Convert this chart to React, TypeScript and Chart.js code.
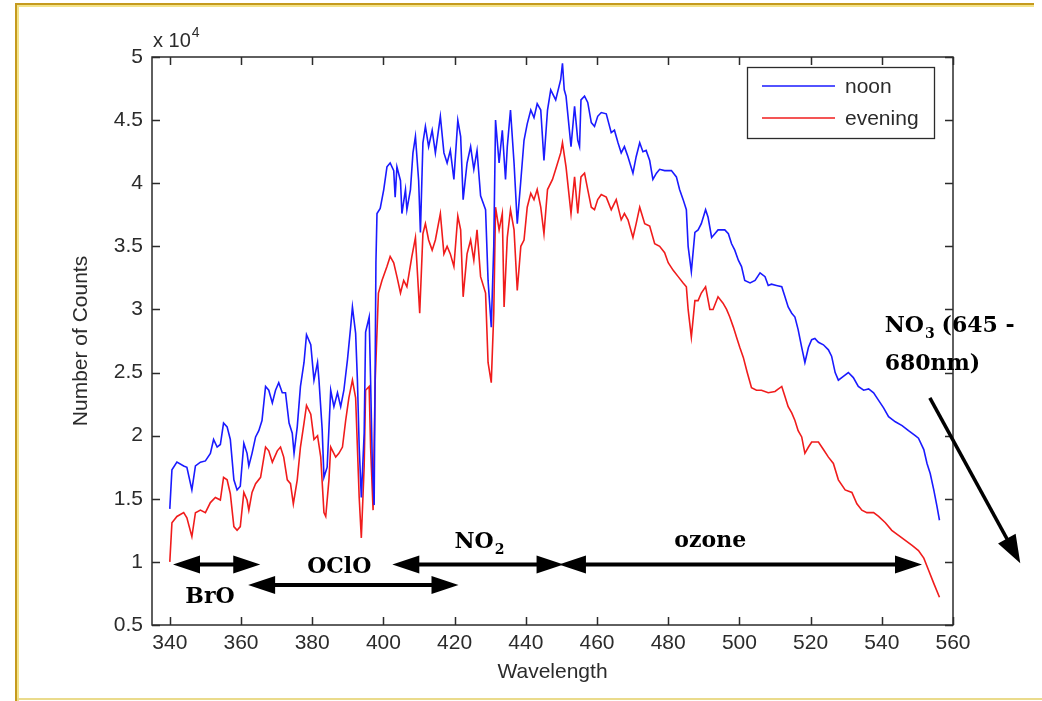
import React, { useEffect, useRef } from 'react';
import { Chart, registerables } from 'chart.js';

Chart.register(...registerables);

// ---------- data (counts in units of 10^4) ----------
const X_TICKS = [340, 360, 380, 400, 420, 440, 460, 480, 500, 520, 540, 560];
const Y_TICKS = [0.5, 1, 1.5, 2, 2.5, 3, 3.5, 4, 4.5, 5];
const X_RANGE = [335, 560];
const Y_RANGE = [0.5, 5];
const SERIES_LABELS = ['noon', 'evening'];

const NOON_WL = [
  340.0, 340.6, 342.0, 343.9, 344.8, 346.2, 347.2, 348.6, 350.0, 351.4, 352.3, 353.3, 354.2, 355.1, 356.1, 357.0,
  358.0, 358.9, 359.8, 360.8, 361.7, 362.2, 363.1, 364.1, 365.0, 365.9, 366.9, 367.8, 368.8, 369.7, 370.6, 371.6,
  372.5, 373.5, 374.4, 374.9, 375.8, 376.7, 377.7, 378.4, 379.6, 380.5, 381.5, 381.9, 382.8, 383.3, 384.2, 385.2,
  386.1, 387.1, 388.0, 388.9, 389.9, 390.8, 391.3, 392.2, 392.7, 393.2, 393.8, 394.6, 395.0, 396.0, 396.4, 396.9,
  397.4, 397.9, 398.2, 399.1, 400.1, 401.0, 401.9, 402.9, 403.3, 403.8, 404.8, 405.2, 406.2, 406.6, 407.6, 408.3,
  409.0, 409.9, 410.4, 411.1, 411.8, 412.7, 413.7, 414.6, 416.0, 417.0, 417.9, 418.8, 419.8, 420.9, 421.7, 422.4,
  423.5, 424.5, 425.4, 426.3, 427.3, 428.7, 429.4, 430.3, 431.0, 431.5, 432.5, 433.4, 434.3, 434.8, 435.7, 436.7,
  437.6, 438.6, 439.5, 440.4, 441.4, 442.3, 443.2, 444.2, 445.1, 446.1, 447.0, 448.4, 449.8, 450.3, 450.8, 451.3,
  452.7, 453.7, 454.6, 455.1, 455.5, 456.5, 457.4, 458.4, 459.3, 460.2, 461.2, 462.6, 464.0, 464.9, 465.9, 466.8,
  467.7, 468.7, 470.1, 471.0, 472.0, 472.9, 473.8, 474.8, 475.7, 476.7, 477.6, 479.0, 480.9, 482.3, 483.2, 484.2,
  485.1, 485.6, 486.5, 487.5, 488.4, 489.3, 490.5, 491.2, 492.2, 493.1, 494.0, 495.0, 495.9, 496.9, 497.8, 498.7,
  499.7, 500.6, 501.5, 503.0, 504.4, 505.8, 507.2, 508.1, 509.0, 510.4, 511.9, 512.8, 513.7, 514.7, 515.6, 516.5,
  517.5, 518.4, 519.4, 520.3, 521.2, 522.2, 523.6, 525.0, 525.9, 526.9, 527.8, 529.2, 530.6, 532.0, 533.4, 534.9,
  536.3, 537.7, 539.1, 540.5, 541.9, 543.8, 545.7, 547.5, 549.4, 550.3, 551.8, 552.7, 553.6, 554.6, 555.5, 556.2,
];
const NOON_COUNTS = [
  1.42, 1.73, 1.79, 1.76, 1.75, 1.57, 1.76, 1.79, 1.80, 1.86, 1.97, 1.91, 1.93, 2.10, 2.07, 1.97,
  1.65, 1.57, 1.60, 1.94, 1.86, 1.76, 1.86, 1.99, 2.04, 2.12, 2.39, 2.36, 2.26, 2.36, 2.42, 2.34,
  2.34, 2.10, 2.02, 1.86, 2.07, 2.39, 2.58, 2.80, 2.72, 2.44, 2.58, 2.44, 2.05, 1.67, 1.75, 2.36,
  2.23, 2.34, 2.23, 2.36, 2.60, 2.86, 3.02, 2.81, 2.44, 1.91, 1.51, 2.02, 2.82, 2.94, 2.44, 1.76,
  1.45, 3.37, 3.76, 3.80, 3.95, 4.13, 4.16, 4.10, 3.89, 4.13, 4.02, 3.76, 3.95, 3.79, 3.95, 4.24,
  4.37, 4.02, 3.61, 4.32, 4.45, 4.29, 4.42, 4.24, 4.53, 4.24, 4.16, 4.26, 4.03, 4.50, 4.37, 3.87,
  4.16, 4.29, 4.11, 4.26, 3.90, 3.79, 3.23, 2.86, 3.50, 4.50, 4.16, 4.42, 4.03, 4.29, 4.58, 4.16,
  3.68, 4.02, 4.34, 4.47, 4.58, 4.52, 4.63, 4.58, 4.18, 4.58, 4.74, 4.66, 4.82, 4.95, 4.74, 4.69,
  4.29, 4.61, 4.34, 4.29, 4.66, 4.69, 4.64, 4.48, 4.45, 4.53, 4.56, 4.55, 4.40, 4.42, 4.32, 4.24,
  4.29, 4.21, 4.08, 4.21, 4.32, 4.25, 4.26, 4.18, 4.03, 4.08, 4.11, 4.10, 4.10, 4.05, 3.95, 3.87,
  3.79, 3.50, 3.30, 3.61, 3.63, 3.68, 3.79, 3.73, 3.57, 3.60, 3.63, 3.63, 3.63, 3.60, 3.52, 3.47,
  3.39, 3.34, 3.23, 3.21, 3.23, 3.29, 3.26, 3.19, 3.20, 3.19, 3.18, 3.10, 3.02, 2.97, 2.94, 2.84,
  2.70, 2.58, 2.70, 2.76, 2.77, 2.74, 2.72, 2.68, 2.63, 2.50, 2.44, 2.47, 2.50, 2.46, 2.39, 2.36,
  2.37, 2.34, 2.28, 2.22, 2.15, 2.11, 2.08, 2.04, 2.00, 1.98, 1.89, 1.78, 1.70, 1.57, 1.44, 1.33,
];

const EVENING_WL = [
  340.0, 340.6, 342.0, 343.9, 344.8, 346.2, 347.2, 348.6, 350.0, 351.4, 352.8, 354.2, 355.1, 356.1, 357.0, 358.0,
  358.9, 359.8, 360.8, 361.7, 362.2, 363.1, 364.1, 365.5, 366.9, 367.8, 368.8, 370.2, 371.1, 372.0, 373.0, 373.9,
  374.7, 375.8, 376.7, 377.7, 378.4, 379.6, 380.5, 381.5, 382.4, 383.3, 383.8, 384.7, 385.2, 386.6, 387.5, 388.5,
  389.4, 390.3, 391.3, 392.2, 393.2, 393.8, 394.6, 395.0, 396.0, 396.4, 397.1, 397.7, 398.6, 399.6, 401.0, 401.9,
  402.9, 403.8, 404.8, 405.7, 406.6, 408.0, 409.0, 410.2, 411.1, 411.8, 412.7, 413.7, 414.6, 416.0, 417.0, 417.9,
  418.8, 419.8, 420.9, 421.7, 422.4, 423.5, 424.5, 425.4, 426.3, 427.3, 428.7, 429.4, 430.3, 431.0, 431.5, 432.5,
  433.4, 433.9, 434.8, 435.7, 436.7, 437.6, 438.6, 439.5, 440.4, 441.4, 442.3, 443.2, 444.2, 445.1, 446.1, 447.5,
  448.4, 449.8, 450.3, 451.3, 452.7, 453.7, 454.6, 455.5, 456.5, 457.4, 458.4, 459.3, 460.2, 461.2, 462.6, 464.0,
  465.4, 466.8, 467.7, 468.7, 470.1, 471.0, 472.0, 473.4, 474.8, 476.2, 477.6, 479.0, 480.0, 481.4, 482.8, 484.2,
  485.1, 485.6, 486.5, 487.5, 488.4, 489.3, 490.5, 491.7, 492.6, 494.0, 495.4, 496.4, 497.3, 498.3, 499.2, 500.1,
  501.1, 502.2, 503.4, 504.8, 506.2, 508.1, 510.0, 511.9, 512.8, 513.7, 514.7, 515.6, 516.5, 517.5, 518.4, 519.4,
  520.3, 522.2, 523.6, 525.0, 526.4, 527.8, 529.7, 531.6, 533.0, 534.4, 535.8, 537.7, 539.1, 541.0, 542.8, 544.7,
  546.6, 548.5, 550.3, 551.8, 553.2, 554.6, 556.2,
];
const EVENING_COUNTS = [
  1.00, 1.31, 1.36, 1.39, 1.35, 1.20, 1.39, 1.41, 1.39, 1.47, 1.51, 1.49, 1.67, 1.65, 1.54, 1.28,
  1.25, 1.28, 1.55, 1.49, 1.41, 1.55, 1.62, 1.67, 1.91, 1.88, 1.79, 1.88, 1.91, 1.83, 1.65, 1.62,
  1.46, 1.65, 1.91, 2.10, 2.24, 2.17, 1.97, 2.00, 1.83, 1.39, 1.36, 1.65, 1.91, 1.83, 1.86, 1.91,
  2.12, 2.30, 2.44, 2.30, 1.51, 1.19, 1.76, 2.36, 2.39, 1.91, 1.41, 2.44, 3.13, 3.23, 3.34, 3.42,
  3.37, 3.26, 3.13, 3.23, 3.18, 3.42, 3.57, 2.97, 3.60, 3.68, 3.55, 3.47, 3.55, 3.76, 3.44, 3.50,
  3.44, 3.34, 3.74, 3.63, 3.10, 3.44, 3.55, 3.39, 3.63, 3.26, 3.13, 2.58, 2.42, 2.97, 3.81, 3.63,
  3.76, 3.02, 3.57, 3.79, 3.63, 3.15, 3.50, 3.55, 3.81, 3.92, 3.87, 3.95, 3.81, 3.60, 3.95, 4.03,
  4.11, 4.24, 4.32, 4.13, 3.76, 4.05, 3.76, 4.05, 4.08, 3.95, 3.81, 3.79, 3.87, 3.91, 3.89, 3.79,
  3.87, 3.71, 3.76, 3.71, 3.57, 3.68, 3.81, 3.68, 3.66, 3.52, 3.50, 3.45, 3.37, 3.31, 3.26, 3.21,
  3.18, 3.00, 2.78, 3.07, 3.07, 3.13, 3.18, 3.00, 3.00, 3.10, 3.05, 3.00, 2.94, 2.86, 2.78, 2.70,
  2.62, 2.50, 2.38, 2.36, 2.36, 2.34, 2.35, 2.39, 2.31, 2.23, 2.18, 2.12, 2.04, 1.99, 1.86, 1.91,
  1.95, 1.95, 1.89, 1.83, 1.78, 1.65, 1.57, 1.55, 1.46, 1.41, 1.39, 1.39, 1.36, 1.31, 1.25, 1.21,
  1.17, 1.13, 1.09, 1.03, 0.93, 0.83, 0.72,
];

// ---------- annotation placement (data coordinates) ----------
const RANGE_ARROWS = [
  { x1: 340.9, x2: 365.4, y: 0.98 },
  { x1: 362.0, x2: 421.1, y: 0.816 },
  { x1: 402.5, x2: 450.6, y: 0.98 },
  { x1: 449.3, x2: 551.3, y: 0.98 },
];
const LABELS = [
  { text: 'BrO', sub: '', x: 351.3, y: 0.674 },
  { text: 'OClO', sub: '', x: 387.6, y: 0.91 },
  { text: 'NO', sub: '2', x: 427.0, y: 1.11 },
  { text: 'ozone', sub: '', x: 491.8, y: 1.117 },
];
const NO3_ARROW = { x1: 553.5, y1: 2.3, x2: 578.9, y2: 0.99 };
const NO3_TEXT = { x: 540.8, y: 2.82, line2y: 2.52 };

const AXIS_COLOR = '#2b2b2b';
const SANS = '"Liberation Sans", Arial, sans-serif';
const SERIF_BOLD = 'bold 22px "DejaVu Serif", serif';
const SERIF_SUB = 'bold 14px "DejaVu Serif", serif';

function head(ctx: CanvasRenderingContext2D, fx: number, fy: number, tx: number, ty: number, len: number, half: number) {
  const a = Math.atan2(ty - fy, tx - fx);
  const bx = tx - len * Math.cos(a);
  const by = ty - len * Math.sin(a);
  ctx.beginPath();
  ctx.moveTo(tx, ty);
  ctx.lineTo(bx + half * Math.sin(a), by - half * Math.cos(a));
  ctx.lineTo(bx - half * Math.sin(a), by + half * Math.cos(a));
  ctx.closePath();
  ctx.fill();
}

const decorPlugin = {
  id: 'decor',
  afterDatasetsDraw(chart: any) {
    const { ctx, chartArea: a, scales } = chart;
    const xs = scales.x;
    const ys = scales.y;
    ctx.save();
    // axes box
    ctx.strokeStyle = AXIS_COLOR;
    ctx.lineWidth = 1.5;
    ctx.strokeRect(a.left, a.top, a.right - a.left, a.bottom - a.top);
    ctx.beginPath();
    X_TICKS.forEach((v) => {
      const p = Math.round(xs.getPixelForValue(v)) + 0.5;
      ctx.moveTo(p, a.bottom);
      ctx.lineTo(p, a.bottom - 8);
      ctx.moveTo(p, a.top);
      ctx.lineTo(p, a.top + 8);
    });
    Y_TICKS.forEach((v) => {
      const p = Math.round(ys.getPixelForValue(v)) + 0.5;
      ctx.moveTo(a.left, p);
      ctx.lineTo(a.left + 8, p);
      ctx.moveTo(a.right, p);
      ctx.lineTo(a.right - 8, p);
    });
    ctx.stroke();

    // exponent label
    ctx.fillStyle = AXIS_COLOR;
    ctx.textBaseline = 'alphabetic';
    ctx.textAlign = 'left';
    ctx.font = `20px ${SANS}`;
    ctx.fillText('x 10', a.left + 1, a.top - 10);
    const w = ctx.measureText('x 10').width;
    ctx.font = `14px ${SANS}`;
    ctx.fillText('4', a.left + 2 + w, a.top - 20);

    // legend
    const lw = 187, lh = 71;
    const lx = a.right - 19 - lw;
    const ly = a.top + 10;
    ctx.fillStyle = '#fff';
    ctx.fillRect(lx, ly, lw, lh);
    ctx.strokeStyle = AXIS_COLOR;
    ctx.lineWidth = 1.3;
    ctx.strokeRect(lx + 0.5, ly + 0.5, lw, lh);
    chart.data.datasets.forEach((ds: any, i: number) => {
      const yy = ly + 19 + i * 32;
      ctx.strokeStyle = ds.borderColor;
      ctx.lineWidth = 1.4;
      ctx.beginPath();
      ctx.moveTo(lx + 15, yy);
      ctx.lineTo(lx + 88, yy);
      ctx.stroke();
      ctx.fillStyle = AXIS_COLOR;
      ctx.font = `21px ${SANS}`;
      ctx.textBaseline = 'middle';
      ctx.fillText(ds.label, lx + 98, yy + 1);
    });

    // range arrows
    ctx.fillStyle = '#000';
    ctx.strokeStyle = '#000';
    ctx.lineWidth = 4;
    const HL = 27, HH = 9;
    RANGE_ARROWS.forEach((r) => {
      const x1 = xs.getPixelForValue(r.x1);
      const x2 = xs.getPixelForValue(r.x2);
      const y = ys.getPixelForValue(r.y);
      ctx.beginPath();
      ctx.moveTo(x1 + HL - 2, y);
      ctx.lineTo(x2 - HL + 2, y);
      ctx.stroke();
      head(ctx, x2, y, x1, y, HL, HH);
      head(ctx, x1, y, x2, y, HL, HH);
    });

    // labels
    ctx.textBaseline = 'alphabetic';
    LABELS.forEach((l) => {
      ctx.font = SERIF_BOLD;
      const tw = ctx.measureText(l.text).width;
      ctx.font = SERIF_SUB;
      const sw = l.sub ? ctx.measureText(l.sub).width + 1 : 0;
      const x0 = xs.getPixelForValue(l.x) - (tw + sw) / 2;
      const y = ys.getPixelForValue(l.y);
      ctx.font = SERIF_BOLD;
      ctx.textAlign = 'left';
      ctx.fillText(l.text, x0, y);
      if (l.sub) {
        ctx.font = SERIF_SUB;
        ctx.fillText(l.sub, x0 + tw + 1, y + 6);
      }
    });

    // NO3 note
    const nx = xs.getPixelForValue(NO3_TEXT.x);
    const ny = ys.getPixelForValue(NO3_TEXT.y);
    ctx.font = SERIF_BOLD;
    ctx.fillText('NO', nx, ny);
    const nw = ctx.measureText('NO').width;
    ctx.font = SERIF_SUB;
    ctx.fillText('3', nx + nw + 1, ny + 6);
    ctx.font = SERIF_BOLD;
    ctx.fillText(' (645 -', nx + nw + 10, ny);
    ctx.fillText('680nm)', nx, ys.getPixelForValue(NO3_TEXT.line2y));

    const ax1 = xs.getPixelForValue(NO3_ARROW.x1);
    const ay1 = ys.getPixelForValue(NO3_ARROW.y1);
    const ax2 = xs.getPixelForValue(NO3_ARROW.x2);
    const ay2 = ys.getPixelForValue(NO3_ARROW.y2);
    const ang = Math.atan2(ay2 - ay1, ax2 - ax1);
    ctx.lineWidth = 3.5;
    ctx.beginPath();
    ctx.moveTo(ax1, ay1);
    ctx.lineTo(ax2 - 24 * Math.cos(ang), ay2 - 24 * Math.sin(ang));
    ctx.stroke();
    head(ctx, ax1, ay1, ax2, ay2, 28, 10);
    ctx.restore();
  },
};

export default function App() {
  const ref = useRef<HTMLCanvasElement | null>(null);
  useEffect(() => {
    if (!ref.current) return;
    const noon = NOON_WL.map((x, i) => ({ x, y: NOON_COUNTS[i] }));
    const evening = EVENING_WL.map((x, i) => ({ x, y: EVENING_COUNTS[i] }));
    const chart = new Chart(ref.current, {
      type: 'line',
      data: {
        datasets: [
          { label: SERIES_LABELS[0], data: noon, borderColor: '#1a1aff', borderWidth: 1.6, pointRadius: 0, tension: 0 },
          { label: SERIES_LABELS[1], data: evening, borderColor: '#f01c1c', borderWidth: 1.6, pointRadius: 0, tension: 0 },
        ],
      },
      options: {
        animation: false,
        responsive: false,
        devicePixelRatio: 1,
        layout: { padding: { left: 0, top: 57, right: 89, bottom: 0 } },
        plugins: { legend: { display: false }, tooltip: { enabled: false } },
        scales: {
          x: {
            type: 'linear',
            min: X_RANGE[0],
            max: X_RANGE[1],
            afterBuildTicks: (s: any) => { s.ticks = X_TICKS.map((v) => ({ value: v })); },
            afterFit: (s: any) => { s.height = 76; },
            grid: { display: false, drawTicks: false },
            border: { display: false },
            ticks: { color: AXIS_COLOR, font: { family: SANS, size: 21 }, padding: 6, maxRotation: 0, autoSkip: false },
            title: { display: true, text: 'Wavelength', color: AXIS_COLOR, font: { family: SANS, size: 21 }, padding: { top: 0, bottom: 16 } },
          },
          y: {
            type: 'linear',
            min: Y_RANGE[0],
            max: Y_RANGE[1],
            afterBuildTicks: (s: any) => { s.ticks = Y_TICKS.map((v) => ({ value: v })); },
            afterFit: (s: any) => { s.width = 152; },
            grid: { display: false, drawTicks: false },
            border: { display: false },
            ticks: { color: AXIS_COLOR, font: { family: SANS, size: 21 }, padding: 9, callback: (v: any) => String(v) },
            title: { display: true, text: 'Number of Counts', color: AXIS_COLOR, font: { family: SANS, size: 21 }, padding: { top: 69, bottom: 0 } },
          },
        },
      },
      plugins: [decorPlugin],
    });
    return () => chart.destroy();
  }, []);

  return (
    <div style={{ position: 'absolute', left: 0, top: 0, width: 1042, height: 701, background: '#fff', overflow: 'hidden' }}>
      <canvas ref={ref} width={1042} height={701} style={{ position: 'absolute', left: 0, top: 0 }} />
      <div style={{ position: 'absolute', left: 15, top: 3, width: 1017, height: 697, borderTop: '2px solid #c59a1e', borderLeft: '2px solid #c59a1e', pointerEvents: 'none' }} />
      <div style={{ position: 'absolute', left: 17, top: 5, width: 1015, height: 695, borderTop: '2px solid #f3e38a', borderLeft: '2px solid #f3e38a', pointerEvents: 'none' }} />
      <div style={{ position: 'absolute', left: 17, top: 698, width: 1025, height: 2, background: '#eadb8c', pointerEvents: 'none' }} />
    </div>
  );
}
